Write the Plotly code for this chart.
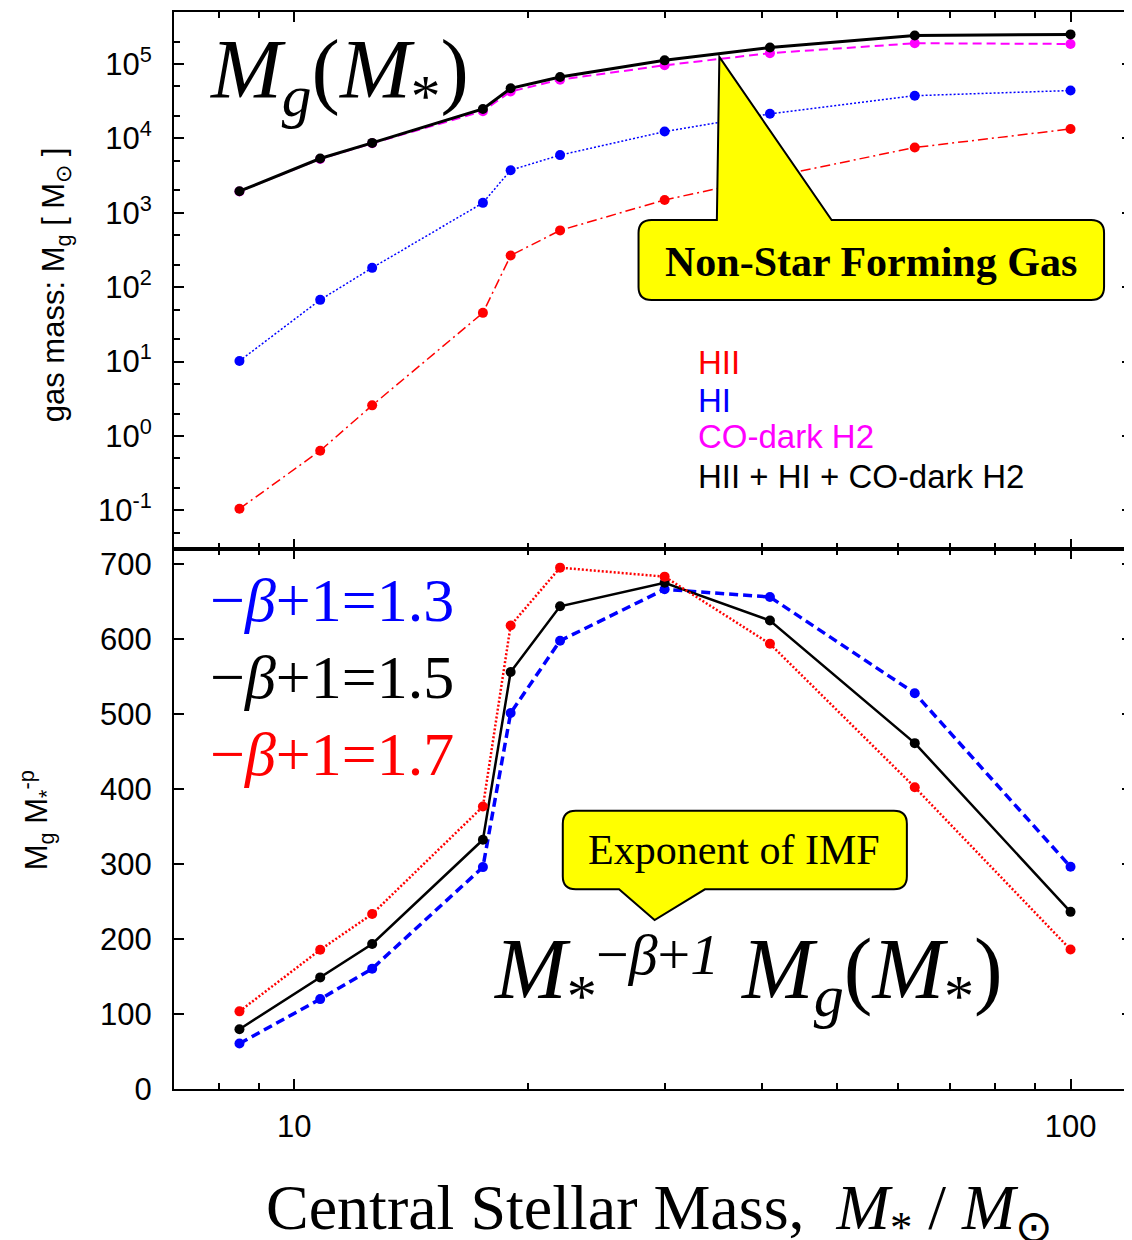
import math
import plotly.graph_objects as go

# ---------------- data ----------------
mstar = [8.5, 10.8, 12.6, 17.5, 19.0, 22.0, 30.0, 41.0, 63.0, 100.0]

m_hii = [0.105, 0.635, 2.58, 45.2, 267, 580, 1490, 3000, 7540, 13400]
m_hi = [10.2, 67.6, 182, 1360, 3740, 5960, 12350, 21400, 37500, 44000]
m_h2 = [1940, 5300, 8600, 23200, 42700, 61600, 96000, 140000, 190000, 186000]
m_tot = [1950, 5370, 8700, 24900, 47100, 67000, 112000, 167000, 242000, 250000]

w13 = [60.6, 119.9, 160.5, 296, 501.6, 598, 666.6, 656.3, 528, 296.4]
w15 = [79.8, 148.9, 193.5, 332.5, 556.4, 644, 675.3, 625, 461.4, 236.3]
w17 = [103.6, 185.7, 233.4, 376.8, 618.4, 695.5, 683.5, 593.9, 402.6, 186]

x_major = [10, 100]
x_major_text = ["10", "100"]
x_minor = [8, 9, 20, 30, 40, 50, 60, 70, 80, 90]

y_top_major = [0.1, 1, 10, 100, 1e3, 1e4, 1e5]
y_top_text = ["10<sup>-1</sup>", "10<sup>0</sup>", "10<sup>1</sup>", "10<sup>2</sup>",
              "10<sup>3</sup>", "10<sup>4</sup>", "10<sup>5</sup>"]
y_top_minor = [0.05, 0.2, 0.5, 2, 5, 20, 50, 200, 500, 2e3, 5e3, 2e4, 5e4, 2e5]
y_bot_major = [0, 100, 200, 300, 400, 500, 600, 700]

# ---------------- layout geometry (page pixels; body has an 8px margin) ----------------
OFF = 8
PLOT_L, PLOT_R, PLOT_T, PLOT_B = 174, 1134, 12, 1089
W = PLOT_R - OFF            # figure width, r margin 0
H = 1240 - OFF              # figure height
L = PLOT_L - OFF
T = PLOT_T - OFF
B = (OFF + H) - PLOT_B
PW, PH = PLOT_R - PLOT_L, PLOT_B - PLOT_T
split = (PLOT_B - 549.3) / PH


def px(x):
    return (x - PLOT_L) / PW


def py(y):
    return (PLOT_B - y) / PH


SANS = "Liberation Sans, Arial, Helvetica, sans-serif"
SERIF = "Liberation Serif, Times New Roman, serif"
RED, BLUE, MAG, BLK = "#ff0000", "#0000ff", "#ff00ff", "#000000"

fig = go.Figure()

# top panel
fig.add_trace(go.Scatter(x=mstar, y=m_hii, xaxis="x2", yaxis="y2", mode="lines+markers",
                         line=dict(color=RED, width=1.5, dash="10px,4px,2px,4px"),
                         marker=dict(color=RED, size=10), name="HII"))
fig.add_trace(go.Scatter(x=mstar, y=m_hi, xaxis="x2", yaxis="y2", mode="lines+markers",
                         line=dict(color=BLUE, width=1.5, dash="2px,2px"),
                         marker=dict(color=BLUE, size=10), name="HI"))
fig.add_trace(go.Scatter(x=mstar, y=m_h2, xaxis="x2", yaxis="y2", mode="lines+markers",
                         line=dict(color=MAG, width=2, dash="9px,5px"),
                         marker=dict(color=MAG, size=10), name="CO-dark H2"))
fig.add_trace(go.Scatter(x=mstar, y=m_tot, xaxis="x2", yaxis="y2", mode="lines+markers",
                         line=dict(color=BLK, width=3),
                         marker=dict(color=BLK, size=10), name="total"))

# bottom panel
fig.add_trace(go.Scatter(x=mstar, y=w13, xaxis="x", yaxis="y", mode="lines+markers",
                         line=dict(color=BLUE, width=3.5, dash="9px,5px"),
                         marker=dict(color=BLUE, size=10), name="1.3"))
fig.add_trace(go.Scatter(x=mstar, y=w15, xaxis="x", yaxis="y", mode="lines+markers",
                         line=dict(color=BLK, width=2.5),
                         marker=dict(color=BLK, size=10), name="1.5"))
fig.add_trace(go.Scatter(x=mstar, y=w17, xaxis="x", yaxis="y", mode="lines+markers",
                         line=dict(color=RED, width=2.5, dash="2px,2px"),
                         marker=dict(color=RED, size=10), name="1.7"))

xr = [math.log10(7.0), math.log10(120.0)]
axis_common = dict(showline=True, linewidth=2, linecolor=BLK, mirror="ticks",
                   ticks="inside", ticklen=10, tickwidth=2, tickcolor=BLK,
                   showgrid=False, zeroline=False,
                   tickfont=dict(family=SANS, size=31, color=BLK))

fig.update_layout(
    width=W, height=H, margin=dict(l=L, r=0, t=T, b=B),
    paper_bgcolor="white", plot_bgcolor="white", showlegend=False,
    xaxis=dict(type="log", range=xr, domain=[0, 1], anchor="y",
               tickmode="array", tickvals=x_major, ticktext=x_major_text,
               minor=dict(tickmode="array", tickvals=x_minor, ticks="inside",
                          ticklen=6, tickwidth=1.5, tickcolor=BLK),
               ticklabelstandoff=9, **axis_common),
    xaxis2=dict(type="log", range=xr, domain=[0, 1], anchor="y2", matches="x",
                tickmode="array", tickvals=x_major, ticktext=x_major_text,
                showticklabels=False,
                minor=dict(tickmode="array", tickvals=x_minor, ticks="inside",
                           ticklen=6, tickwidth=1.5, tickcolor=BLK),
                **axis_common),
    yaxis=dict(range=[0, 720], domain=[0, split], anchor="x",
               tickmode="array", tickvals=y_bot_major,
               ticklabelstandoff=14, **axis_common),
    yaxis2=dict(type="log", range=[math.log10(0.03), math.log10(5e5)],
                domain=[split, 1], anchor="x2",
                tickmode="array", tickvals=y_top_major, ticktext=y_top_text,
                minor=dict(tickmode="array", tickvals=y_top_minor, ticks="inside",
                           ticklen=6, tickwidth=1.5, tickcolor=BLK),
                ticklabelstandoff=14, **axis_common),
)


def rounded_box_path(x0, y0, x1, y1, r, pointer=None, where="top"):
    """SVG path in paper coords. pointer = (base_left, base_right, apex_x, apex_y) in px."""
    P = lambda x, y: f"{px(x):.5f},{py(y):.5f}"
    d = f"M {P(x0 + r, y0)} "
    if pointer and where == "top":
        bl, br, ax, ay = pointer
        d += f"L {P(bl, y0)} L {P(ax, ay)} L {P(br, y0)} "
    d += f"L {P(x1 - r, y0)} Q {P(x1, y0)} {P(x1, y0 + r)} "
    d += f"L {P(x1, y1 - r)} Q {P(x1, y1)} {P(x1 - r, y1)} "
    if pointer and where == "bottom":
        bl, br, ax, ay = pointer
        d += f"L {P(br, y1)} L {P(ax, ay)} L {P(bl, y1)} "
    d += f"L {P(x0 + r, y1)} Q {P(x0, y1)} {P(x0, y1 - r)} "
    d += f"L {P(x0, y0 + r)} Q {P(x0, y0)} {P(x0 + r, y0)} Z"
    return d


fig.add_shape(type="path", xref="paper", yref="paper",
              path=rounded_box_path(639.5, 220, 1106, 300, 13, (718, 833, 720.5, 57), "top"),
              fillcolor="#ffff00", line=dict(color=BLK, width=2), layer="above")
fig.add_shape(type="path", xref="paper", yref="paper",
              path=rounded_box_path(563.6, 810.7, 908.4, 889.3, 13, (620, 706, 655.6, 920), "bottom"),
              fillcolor="#ffff00", line=dict(color=BLK, width=2), layer="above")


def ann(text, x, y, size, color=BLK, family=SANS, xanchor="left", yanchor="middle", angle=0):
    fig.add_annotation(text=text, x=px(x), y=py(y), xref="paper", yref="paper",
                       showarrow=False, xanchor=xanchor, yanchor=yanchor, textangle=angle,
                       font=dict(family=family, size=size, color=color))


# legend texts
ann("HII", 697, 362, 33, RED)
ann("HI", 697, 400, 33, BLUE)
ann("CO-dark H2", 697, 436, 33, MAG)
ann("HII + HI + CO-dark H2", 697, 476, 33, BLK)

# callout texts
ann("<b>Non-Star Forming Gas</b>", 872, 262, 42, BLK, SERIF, xanchor="center")
ann("Exponent of IMF", 735, 850, 42, BLK, SERIF, xanchor="center")

# beta labels
ann("−<i>β</i>+1=1.3", 208, 600, 62, BLUE, SERIF)
ann("−<i>β</i>+1=1.5", 208, 677, 62, BLK, SERIF)
ann("−<i>β</i>+1=1.7", 208, 754, 62, RED, SERIF)

# big formulas
ann("<i>M</i><sub><i>g</i></sub>(<i>M</i><sub>*</sub>)", 208, 75, 85, BLK, SERIF)
ann("<i>M</i><sub>*</sub>", 492, 975, 86, BLK, SERIF)
ann("−<i>β</i>+<i>1</i>", 595, 954, 58, BLK, SERIF)
ann("<i>M</i><sub><i>g</i></sub>(<i>M</i><sub>*</sub>)", 739, 975, 86, BLK, SERIF)

# axis titles
ann("gas mass: M<sub>g</sub> [ M<sub>⊙</sub> ]", 56, 285, 31, BLK, SANS, xanchor="center", angle=-90)
ann("M<sub>g</sub> M<sub>*</sub><sup>-p</sup>", 36, 820, 31, BLK, SANS, xanchor="center", angle=-90)
ann("Central Stellar Mass,  <i>M</i><sub>*</sub> / <i>M</i><sub>⊙</sub>", 661, 1212, 64, BLK, SERIF,
    xanchor="center")

fig.write_html("out.html")
